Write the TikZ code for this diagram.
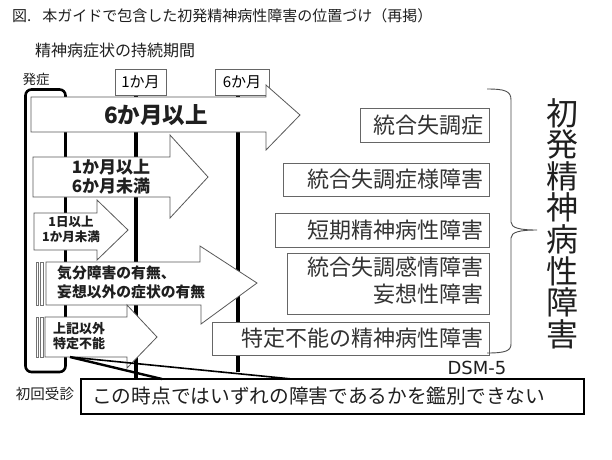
\documentclass[tikz,border=0pt]{standalone}
\usepackage{fontspec}
\newfontfamily\jp{Noto Sans CJK JP}
\newfontfamily\dv{DejaVu Sans}
\begin{document}
\begin{tikzpicture}[x=1pt,y=-1pt,
  arr/.style={draw=black!65, line width=0.8pt, fill=white, line join=miter},
  stripe/.style={draw=black!55, line width=0.6pt, fill=white},
  dbox/.style={draw=black!60, line width=0.9pt, fill=white},
  vbar/.style={line width=4pt, black},
  lbl/.style={inner sep=0pt, text=black!88},
  btxt/.style={lbl, font=\jp\bfseries\fontsize{#1}{#1}\selectfont, align=center},
  rtxt/.style={lbl, anchor=east, text=black!80, font=\jp\fontsize{22}{27}\selectfont, align=right},
]
\path[use as bounding box, fill=white] (0,0) rectangle (612,459);

% titles
\node[lbl, anchor=west, font=\jp\fontsize{15}{16}\selectfont] (title) at (12,16) {図.\hspace{11pt}本ガイドで包含した初発精神病性障害の位置づけ（再掲）};
\node[lbl, anchor=west, font=\jp\fontsize{16}{18}\selectfont] (sub) at (35,50) {精神病症状の持続期間};
\node[lbl, font=\jp\fontsize{13.5}{14}\selectfont] (onsetlbl) at (36,79) {発症};
\node[lbl, font=\jp\fontsize{14.5}{15}\selectfont] (visit) at (45,394) {初回受診};

% onset frame
\draw[line width=2.6pt, rounded corners=6pt] (25.5,89.5) rectangle (65.5,372);

% month lines
\draw[vbar] (136,95) -- (136,378);
\draw[vbar] (238,95) -- (238,372);

% month boxes
\node[draw=black!60, line width=0.8pt, fill=white, minimum width=51pt, minimum height=26pt, inner sep=0pt, font=\jp\fontsize{15}{16}\selectfont] (m1) at (140.5,82) {1か月};
\node[draw=black!60, line width=0.8pt, fill=white, minimum width=54pt, minimum height=26pt, inner sep=0pt, font=\jp\fontsize{15}{16}\selectfont] (m6) at (242,82) {6か月};

% arrows
\draw[arr] (31,97) -- (266,97) -- (266,85) -- (300,115) -- (266,150) -- (266,132) -- (31,132) -- cycle;
\node[btxt=22.5] (a1) at (156,115) {6か月以上};

\draw[arr] (33,157) -- (170,157) -- (170,135) -- (208,177) -- (170,218) -- (170,197) -- (33,197) -- cycle;
\node[btxt=17, font=\jp\bfseries\fontsize{17}{19}\selectfont] (a2) at (111,176.5) {1か月以上\\6か月未満};

\draw[arr] (34,213) -- (97,213) -- (97,200) -- (128,230) -- (97,260) -- (97,250) -- (34,250) -- cycle;
\node[btxt=12.5, font=\jp\bfseries\fontsize{12.5}{15}\selectfont] (a3) at (71,229.5) {1日以上\\1か月未満};

\draw[stripe] (36,262) rectangle (38,305);
\draw[stripe] (40,262) rectangle (43.5,305);
\draw[arr] (46,262) -- (200,262) -- (200,246) -- (257,283) -- (201,324) -- (201,305) -- (46,305) -- cycle;
\node[lbl, anchor=west, align=left, font=\jp\bfseries\fontsize{14.8}{19}\selectfont] (a4) at (57,282.5) {気分障害の有無、\\妄想以外の症状の有無};

\draw[stripe] (36,317) rectangle (38,357);
\draw[stripe] (40,317) rectangle (43,357);
\draw[arr] (45,317) -- (127,317) -- (127,305) -- (157,337) -- (127,368) -- (127,357) -- (45,357) -- cycle;
\node[lbl, anchor=west, align=left, font=\jp\bfseries\fontsize{13}{14.5}\selectfont] (a5) at (53,336) {上記以外\\特定不能};

% right boxes
\draw[dbox] (360,108) rectangle (489,142);
\node[rtxt] (d1) at (484,125) {統合失調症};
\draw[dbox] (283,163) rectangle (489,196);
\node[rtxt] (d2) at (484,179.5) {統合失調症様障害};
\draw[dbox] (275,213) rectangle (489,247);
\node[rtxt] (d3) at (484,230) {短期精神病性障害};
\draw[dbox] (287,253) rectangle (489,314);
\node[rtxt] (d4) at (484,281) {統合失調感情障害\\妄想性障害};
\draw[dbox] (212,322) rectangle (489,355);
\node[rtxt] (d5) at (484,338.5) {特定不能の精神病性障害};

% brace
\draw[black!70, line width=0.9pt] (487,89) .. controls (505,89) and (511,91) .. (511,100) -- (511,222)
  .. controls (511,228) and (520,230) .. (537,230)
  .. controls (520,230) and (511,232) .. (511,238) -- (511,344)
  .. controls (511,351) and (505,353) .. (487,353);
\node[lbl, align=center, font=\jp\fontsize{32}{31.6}\selectfont] (grp) at (562,223.5) {初\\発\\精\\神\\病\\性\\障\\害};

\node[lbl, font=\dv\fontsize{18}{20}\selectfont] (dsm) at (477,368) {DSM-5};

% callout
\coordinate (apex) at (70,357);
\draw[line width=1.8pt, fill=white] (81,379) rectangle (584,414);
\draw[line width=2.4pt] (apex) -- (162,379);
\draw[line width=1.6pt] (apex) -- (292,379);
\node[lbl, anchor=west, font=\jp\fontsize{19.7}{21}\selectfont] (note) at (92,396.5) {この時点ではいずれの障害であるかを鑑別できない};
\end{tikzpicture}
\end{document}
